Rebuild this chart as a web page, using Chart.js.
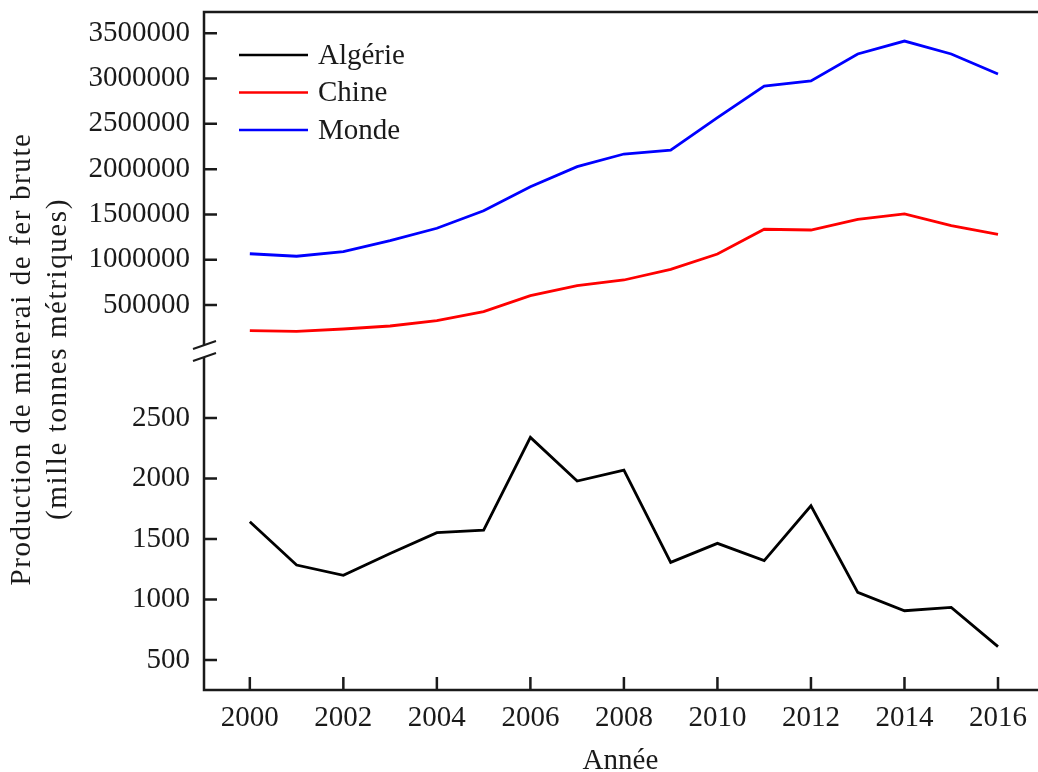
<!DOCTYPE html>
<html>
<head>
<meta charset="utf-8">
<script src="https://cdn.jsdelivr.net/npm/chart.js@4/dist/chart.umd.min.js"></script>
<style>
  html, body { margin: 0; padding: 0; background: #fff; }
  #wrap { width: 1038px; height: 772px; }
</style>
</head>
<body>
<div id="wrap"><canvas id="c" width="1038" height="772"></canvas></div>
<script>
// Production de minerai de fer brute (milliers de tonnes métriques)
const years   = [2000, 2001, 2002, 2003, 2004, 2005, 2006, 2007, 2008, 2009, 2010, 2011, 2012, 2013, 2014, 2015, 2016];
const algerie = [1643, 1285, 1200, 1380, 1552, 1574, 2340, 1979, 2070, 1307, 1464, 1321, 1775, 1059, 907, 935, 610];
const chine   = [216000, 209000, 235000, 268000, 327000, 426000, 603000, 713000, 776000, 894000, 1063000, 1336000, 1328000, 1446000, 1505000, 1376000, 1281000];
const monde   = [1066000, 1038000, 1089000, 1210000, 1347000, 1541000, 1806000, 2027000, 2167000, 2211000, 2568000, 2918000, 2973000, 3271000, 3414000, 3271000, 3051000];

const xTicks       = [2000, 2002, 2004, 2006, 2008, 2010, 2012, 2014, 2016];
const yTopTicks    = [500000, 1000000, 1500000, 2000000, 2500000, 3000000, 3500000];
const yBottomTicks = [500, 1000, 1500, 2000, 2500];

const FONT = '"Liberation Serif", "DejaVu Serif", serif';
const FONT_SIZE = 29;
const AXIS_COLOR = '#1a1a1a';
const TEXT_COLOR = '#1a1a1a';

const pts = (arr) => years.map((y, i) => ({ x: y, y: arr[i] }));

// Frame, inward ticks, axis break, legend and y title
const decorations = {
  id: 'decorations',
  afterDraw(chart) {
    const ctx = chart.ctx;
    const area = chart.chartArea;
    const xs = chart.scales.x;
    const yt = chart.scales.yTop;
    const yb = chart.scales.yBot;
    const W = chart.width;
    const breakY = (yt.bottom + yb.top) / 2;
    ctx.save();
    ctx.strokeStyle = AXIS_COLOR;
    ctx.lineWidth = 2.5;
    ctx.lineCap = 'butt';
    // top and bottom border
    ctx.beginPath();
    ctx.moveTo(area.left - 1.25, area.top); ctx.lineTo(W, area.top);
    ctx.moveTo(area.left - 1.25, area.bottom); ctx.lineTo(W, area.bottom);
    // left axis with a gap at the break
    ctx.moveTo(area.left, area.top); ctx.lineTo(area.left, breakY - 6);
    ctx.moveTo(area.left, breakY + 6); ctx.lineTo(area.left, area.bottom);
    ctx.stroke();
    // break marks
    ctx.lineWidth = 2;
    ctx.beginPath();
    ctx.moveTo(area.left - 11, breakY - 2); ctx.lineTo(area.left + 12, breakY - 10);
    ctx.moveTo(area.left - 11, breakY + 10); ctx.lineTo(area.left + 12, breakY + 2);
    ctx.stroke();
    // inward ticks
    ctx.lineWidth = 2.5;
    ctx.beginPath();
    xs.ticks.forEach(t => {
      const px = xs.getPixelForValue(t.value);
      ctx.moveTo(px, area.bottom); ctx.lineTo(px, area.bottom - 13);
    });
    [yt, yb].forEach(s => s.ticks.forEach(t => {
      const py = s.getPixelForValue(t.value);
      ctx.moveTo(area.left, py); ctx.lineTo(area.left + 13, py);
    }));
    ctx.stroke();

    // legend
    ctx.font = FONT_SIZE + 'px ' + FONT;
    ctx.textBaseline = 'middle';
    ctx.textAlign = 'left';
    chart.data.datasets.forEach((ds, i) => {
      const y = area.top + 43 + i * 37.5;
      ctx.strokeStyle = ds.borderColor;
      ctx.lineWidth = 2.5;
      ctx.beginPath();
      ctx.moveTo(area.left + 35, y); ctx.lineTo(area.left + 104, y);
      ctx.stroke();
      ctx.fillStyle = TEXT_COLOR;
      ctx.fillText(ds.label, area.left + 114, y + 1);
    });

    // y axis title (two lines)
    ctx.save();
    ctx.translate(0, 359);
    ctx.rotate(-Math.PI / 2);
    ctx.textAlign = 'center';
    ctx.textBaseline = 'middle';
    ctx.fillStyle = TEXT_COLOR;
    ctx.letterSpacing = '1.6px';
    ctx.fillText('Production de minerai de fer brute', 0, 22);
    ctx.fillText('(mille tonnes métriques)', 0, 58);
    ctx.restore();
    ctx.restore();
  }
};

const tickFont = { family: FONT, size: FONT_SIZE };
const noPad = s => { s.paddingTop = 0; s.paddingBottom = 0; };

new Chart(document.getElementById('c'), {
  type: 'line',
  data: {
    datasets: [
      { label: 'Algérie', data: pts(algerie), yAxisID: 'yBot', borderColor: '#000000', borderWidth: 2.8 },
      { label: 'Chine',   data: pts(chine),   yAxisID: 'yTop', borderColor: '#ff0000', borderWidth: 2.8 },
      { label: 'Monde',   data: pts(monde),   yAxisID: 'yTop', borderColor: '#0000ff', borderWidth: 2.8 }
    ]
  },
  options: {
    responsive: false,
    animation: false,
    devicePixelRatio: 1,
    layout: { padding: { top: 12, right: 0, bottom: 0, left: 0 } },
    elements: { point: { radius: 0 }, line: { tension: 0 } },
    plugins: { legend: { display: false }, tooltip: { enabled: false } },
    scales: {
      x: {
        type: 'linear',
        min: 1999.02, max: 2016.83,
        grid: { display: false, drawTicks: false },
        border: { display: false },
        afterBuildTicks: s => { s.ticks = xTicks.map(v => ({ value: v })); },
        afterFit: s => { s.height = 82; },
        ticks: { font: tickFont, color: TEXT_COLOR, padding: 11, maxRotation: 0, autoSkip: false, callback: v => String(v) },
        title: { display: true, text: 'Année', font: { family: FONT, size: FONT_SIZE, lineHeight: 0.75 }, color: TEXT_COLOR, padding: 0 }
      },
      yTop: {
        type: 'linear',
        position: 'left',
        stack: 'y',
        stackWeight: 1,
        weight: 2,
        min: -8000, max: 3735000,
        grid: { display: false, drawTicks: false },
        border: { display: false },
        afterBuildTicks: s => { s.ticks = yTopTicks.map(v => ({ value: v })); },
        afterFit: s => { s.width = 204; noPad(s); },
        ticks: { font: tickFont, color: TEXT_COLOR, padding: 14, autoSkip: false, callback: v => String(v) }
      },
      yBot: {
        type: 'linear',
        position: 'left',
        stack: 'y',
        stackWeight: 1,
        weight: 1,
        min: 252, max: 3054,
        grid: { display: false, drawTicks: false },
        border: { display: false },
        afterBuildTicks: s => { s.ticks = yBottomTicks.map(v => ({ value: v })); },
        afterFit: s => { s.width = 204; noPad(s); },
        ticks: { font: tickFont, color: TEXT_COLOR, padding: 14, autoSkip: false, callback: v => String(v) }
      }
    }
  },
  plugins: [decorations]
});
</script>
</body>
</html>
